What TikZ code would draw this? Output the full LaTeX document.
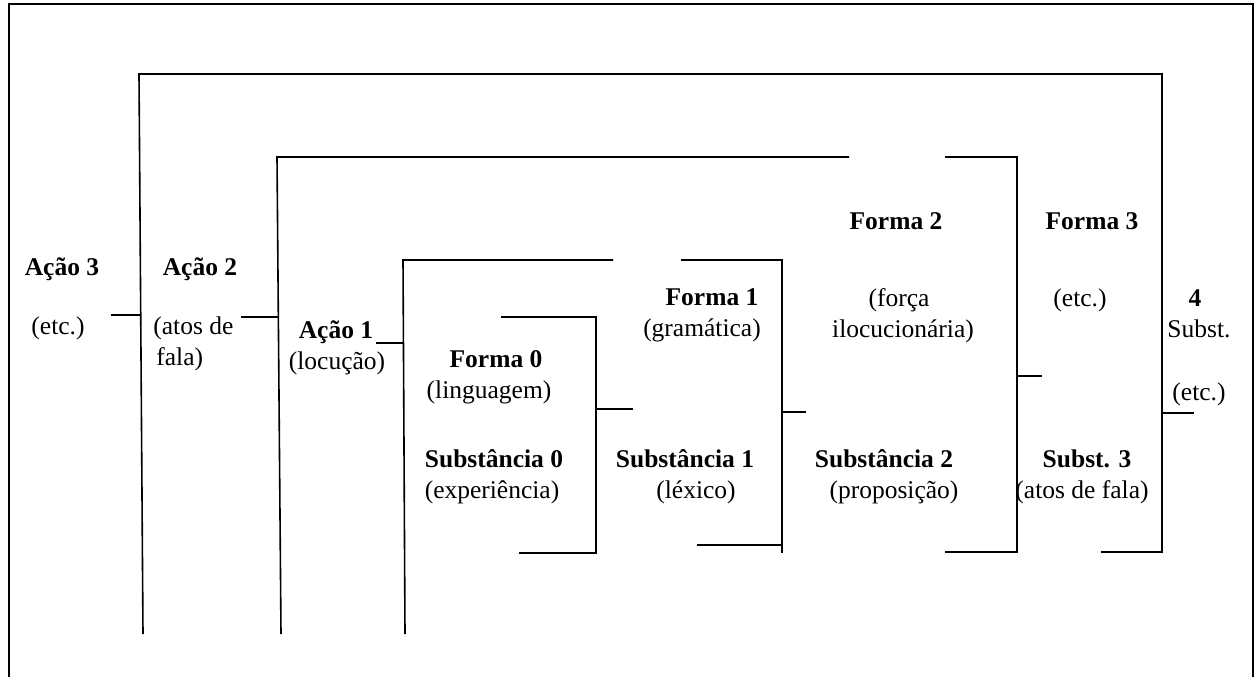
\documentclass[tikz,border=0pt]{standalone}
\usepackage{fontspec}
\setmainfont{Liberation Serif}
\begin{document}
\begin{tikzpicture}[x=0.5pt,y=-0.5pt,
  frame/.style={line width=1.1pt},
  bar/.style={line width=0.8pt},
  lbl/.style={anchor=base,inner sep=0pt,font=\fontsize{12.75}{15.5}\selectfont},
  head/.style={lbl,font=\fontsize{12.75}{15.5}\selectfont\bfseries}]
\useasboundingbox (0,0) rectangle (1258,677);

% open frame
\draw[frame] (9,677) -- (9,4) -- (1253,4) -- (1253,677);

% level 3 bracket
\draw[bar] (143,634) -- (139,74) -- (1162,74) -- (1162,552) -- (1101,552);
\draw[bar] (111,315) -- (141,315);
\draw[bar] (1162,413) -- (1194,413);

% level 2 bracket
\draw[bar] (281,634) -- (277,157) -- (849,157);
\draw[bar] (945,157) -- (1017,157) -- (1017,552) -- (945,552);
\draw[bar] (241,317) -- (279,317);
\draw[bar] (1017,376) -- (1042,376);

% level 1 bracket
\draw[bar] (405,634) -- (403,260) -- (613,260);
\draw[bar] (681,260) -- (782,260) -- (782,553);
\draw[bar] (697,545) -- (782,545);
\draw[bar] (376,343) -- (403,343);
\draw[bar] (782,412) -- (806,412);

% level 0 bracket
\draw[bar] (501,317) -- (596,317) -- (596,553) -- (519,553);
\draw[bar] (596,409) -- (633,409);

% labels
\node[head] (a3) at (62,275) {Ação 3};
\node[lbl]  (a3e) at (58,334) {(etc.)};
\node[head] (a2) at (200,275) {Ação 2};
\node[lbl,anchor=base west] (a2a) at (153,334) {(atos de};
\node[lbl,anchor=base west] (a2b) at (156,365) {fala)};
\node[head] (a1) at (336,338) {Ação 1};
\node[lbl]  (a1l) at (337,369) {(locução)};

\node[head] (f0) at (496,367) {Forma 0};
\node[lbl]  (f0l) at (489,398) {(linguagem)};
\node[head] (s0) at (494,467) {Substância 0};
\node[lbl]  (s0l) at (492,498) {(experiência)};

\node[head] (f1) at (712,305) {Forma 1};
\node[lbl]  (f1l) at (702,336) {(gramática)};
\node[head] (s1) at (685,467) {Substância 1};
\node[lbl]  (s1l) at (696,498) {(léxico)};

\node[head] (f2) at (896,229) {Forma 2};
\node[lbl]  (f2a) at (899,306) {(força};
\node[lbl]  (f2b) at (903,337) {ilocucionária)};
\node[head] (s2) at (884,467) {Substância 2};
\node[lbl]  (s2l) at (894,498) {(proposição)};

\node[head] (f3) at (1092,229) {Forma 3};
\node[lbl]  (f3e) at (1080,306) {(etc.)};
\node[head] (s3) at (1087,467) {Subst. 3};
\node[lbl]  (s3l) at (1082,498) {(atos de fala)};

\node[head] (n4) at (1195,306) {4};
\node[lbl]  (n4s) at (1199,337) {Subst.};
\node[lbl]  (n4e) at (1199,400) {(etc.)};
\end{tikzpicture}
\end{document}
